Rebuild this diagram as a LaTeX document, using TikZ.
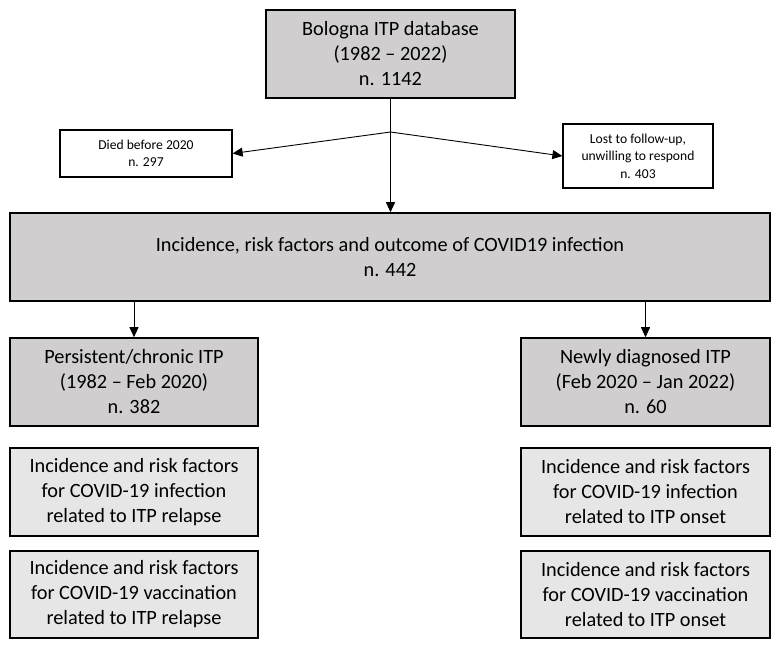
\documentclass[tikz,border=0pt]{standalone}
\usepackage{fontspec}
\setmainfont{Carlito}
\usetikzlibrary{arrows.meta}
\definecolor{darkbox}{RGB}{208,206,206}
\definecolor{lightbox}{RGB}{231,230,230}
\begin{document}
\begin{tikzpicture}[x=1pt,y=-1pt,
  bigbox/.style={draw=black,line width=1.6pt,fill=darkbox,align=center,inner sep=0pt,
    font=\fontsize{20.3}{25}\selectfont},
  litebox/.style={draw=black,line width=1.6pt,fill=lightbox,align=center,inner sep=0pt,
    font=\fontsize{20.3}{25}\selectfont},
  smallbox/.style={draw=black,line width=1.2pt,fill=white,align=center,inner sep=0pt,
    font=\fontsize{13.6}{17.5}\selectfont},
  conn/.style={line width=0.9pt,-{Triangle[length=10pt,width=9pt]}}
]
\useasboundingbox (0,0) rectangle (781,649);
\node[bigbox,minimum width=249pt,minimum height=88pt] (top) at (390.5,54)
  {Bologna ITP database\\(1982 -- 2022)\\n. 1142};
\node[smallbox,minimum width=172pt,minimum height=47pt] (died) at (146,153.5)
  {Died before 2020\\n. 297};
\node[smallbox,minimum width=150pt,minimum height=64pt] (lost) at (638,156)
  {Lost to follow-up,\\unwilling to respond\\n. 403};
\node[bigbox,minimum width=760pt,minimum height=88pt] (main) at (390,257)
  {Incidence, risk factors and outcome of COVID19 infection\\n. 442};
\node[bigbox,minimum width=248pt,minimum height=88pt] (pers) at (134,382)
  {Persistent/chronic ITP\\(1982 -- Feb 2020)\\n. 382};
\node[bigbox,minimum width=249pt,minimum height=88pt] (newd) at (645.5,382)
  {Newly diagnosed ITP\\(Feb 2020 -- Jan 2022)\\n. 60};
\node[litebox,minimum width=248pt,minimum height=88pt] (pinf) at (134,492)
  {Incidence and risk factors\\for COVID-19 infection\\related to ITP relapse};
\node[litebox,minimum width=248pt,minimum height=87pt] (pvac) at (134,594.5)
  {Incidence and risk factors\\for COVID-19 vaccination\\related to ITP relapse};
\node[litebox,minimum width=249pt,minimum height=88pt] (ninf) at (645.5,492)
  {Incidence and risk factors\\for COVID-19 infection\\related to ITP onset};
\node[litebox,minimum width=249pt,minimum height=87pt] (nvac) at (645.5,594.5)
  {Incidence and risk factors\\for COVID-19 vaccination\\related to ITP onset};
\coordinate (split) at (390.5,132);
\draw[line width=0.9pt] (top.south) -- (split);
\draw[conn] (split) -- (died.east);
\draw[conn] (split) -- (lost.west);
\draw[conn] (split) -- (split |- main.north);
\draw[conn] (pers.north |- main.south) -- (pers.north);
\draw[conn] (newd.north |- main.south) -- (newd.north);
\end{tikzpicture}
\end{document}
